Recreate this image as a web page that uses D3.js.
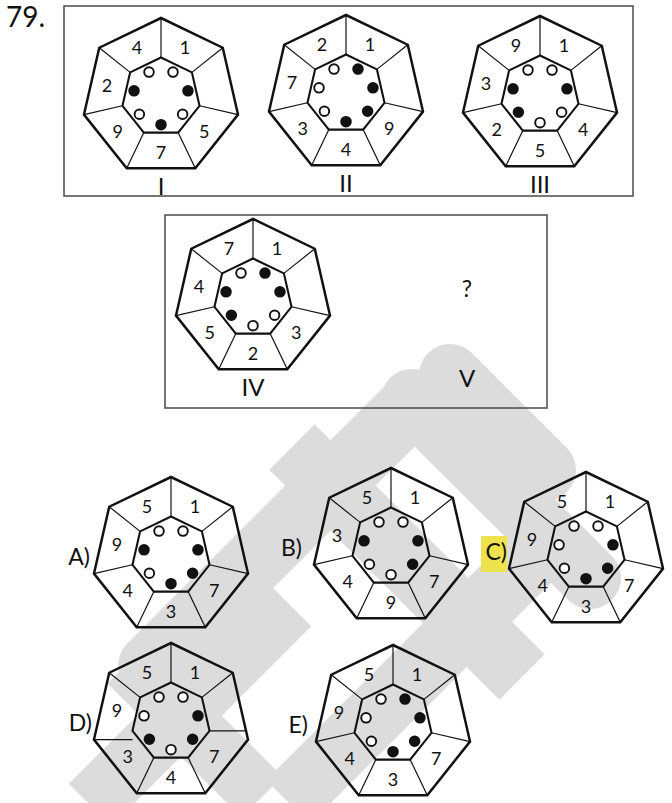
<html>
<head>
<meta charset="utf-8">
<script src="https://cdn.jsdelivr.net/npm/d3@7"></script>
<style>
body {margin: 0; background: white;}
text {font-family: Lato, "Open Sans", sans-serif; fill: #111;}
</style>
</head>
<body>
<svg width="672" height="803"></svg>
<script>

// numbers in the 7 outer cells, clockwise starting at the top-right cell ("" = empty cell)
var numI   = ["1", "", "5", "7", "9", "2", "4"];
var numII  = ["1", "", "9", "4", "3", "7", "2"];
var numIII = ["1", "", "4", "5", "2", "3", "9"];
var numIV  = ["1", "", "3", "2", "5", "4", "7"];
var numA   = ["1", "", "7", "3", "4", "9", "5"];
var numB   = ["1", "", "7", "9", "4", "3", "5"];
var numC   = ["1", "", "7", "3", "4", "9", "5"];
var numD   = ["1", "", "7", "4", "3", "9", "5"];
var numE   = ["1", "", "7", "3", "4", "9", "5"];

// small circles, same order: x = black, o = white
var dotsI   = "oxoxoxo";
var dotsII  = "xxxxooo";
var dotsIII = "oxooxxo";
var dotsIV  = "xxooxxo";
var dotsA   = "oxxxoxo";
var dotsB   = "oxxooxo";
var dotsC   = "oxxxooo";
var dotsD   = "oxxoxoo";
var dotsE   = "xxxxooo";

var figNames = ["I", "II", "III", "IV", "A", "B", "C", "D", "E"];
var optionNames = ["A", "B", "C", "D", "E"];

// where things go on the page
var centers = {I: [161, 97], II: [346, 94], III: [540, 95], IV: [253, 298],
               A: [171, 556], B: [391, 547], C: [586, 551], D: [171, 722], E: [393, 724]};
var letterX = {A: 90, B: 302, C: 507, D: 92, E: 308};

var nums = {I: numI, II: numII, III: numIII, IV: numIV, A: numA, B: numB, C: numC, D: numD, E: numE};
var dots = {I: dotsI, II: dotsII, III: dotsIII, IV: dotsIV, A: dotsA, B: dotsB, C: dotsC, D: dotsD, E: dotsE};

var R = 79;
var angle = d3.scaleLinear().domain([0, 7]).range([0, 2 * Math.PI]);
var radial = d3.scaleLinear().domain([0, 1]).range([0, R]);

function pt(c, rad, a) {
  return [c[0] + rad * Math.sin(a), c[1] - rad * Math.cos(a)];
}

var svg = d3.select("svg");

// grey watermark strokes behind the answer figures
var wm = [
  [450, 375, 545, 470, 62, "round"],
  [414, 402, 150, 666, 64, "round"],
  [290, 605, 90, 805, 60, "butt"],
  [128, 663, 262, 797, 58, "butt"],
  [292, 447, 522, 677, 64, "butt"],
  [412, 400, 590, 578, 62, "round"],
  [562, 528, 288, 802, 62, "butt"]
];
svg.append("g").selectAll("line")
  .data(wm)
  .enter()
  .append("line")
    .attr("x1", function(d) { return d[0]; })
    .attr("y1", function(d) { return d[1]; })
    .attr("x2", function(d) { return d[2]; })
    .attr("y2", function(d) { return d[3]; })
    .attr("stroke", "#dcdcdc")
    .attr("stroke-width", function(d) { return d[4]; })
    .attr("stroke-linecap", function(d) { return d[5]; });

// frames
svg.append("rect").attr("x", 64).attr("y", 6).attr("width", 569).attr("height", 190)
  .attr("fill", "none").attr("stroke", "#555").attr("stroke-width", 1.6);
svg.append("rect").attr("x", 165).attr("y", 215).attr("width", 382).attr("height", 193)
  .attr("fill", "none").attr("stroke", "#555").attr("stroke-width", 1.6);

svg.append("text").attr("x", 6).attr("y", 27).attr("font-size", 28).text("79.");

// highlight behind C)
svg.append("rect").attr("x", 481).attr("y", 536).attr("width", 26).attr("height", 36)
  .attr("fill", "#eee34c");

var poly = d3.line().curve(d3.curveLinearClosed);

figNames.forEach(function(name) {
  var c = centers[name];
  var g = svg.append("g");

  var outer = d3.range(7).map(function(k) { return pt(c, radial(1), angle(k)); });
  var inner = d3.range(7).map(function(k) { return pt(c, radial(0.5), angle(k)); });

  // spokes
  d3.range(7).forEach(function(k) {
    var a = inner[k], b = outer[k];
    if (name == "D" && k == 2) {
      // drawn flat from the inner corner to the outer edge
      var p = outer[1], q = outer[2];
      var t = (a[1] - p[1]) / (q[1] - p[1]);
      b = [p[0] + t * (q[0] - p[0]), a[1]];
    }
    if (name == "D" && k == 5) {
      a = [inner[5][0], outer[5][1]];
    }
    g.append("line")
      .attr("x1", a[0]).attr("y1", a[1]).attr("x2", b[0]).attr("y2", b[1])
      .attr("stroke", "#111").attr("stroke-width", 1.2);
  });

  g.append("path").attr("d", poly(outer))
    .attr("fill", "none").attr("stroke", "#111").attr("stroke-width", 2.5);
  g.append("path").attr("d", poly(inner))
    .attr("fill", "none").attr("stroke", "#111").attr("stroke-width", 2.1);

  // numbers
  g.selectAll("text.num")
    .data(nums[name])
    .enter()
    .append("text")
      .attr("class", "num")
      .attr("x", function(d, i) { return pt(c, radial(0.7), angle(i + 0.5))[0]; })
      .attr("y", function(d, i) { return pt(c, radial(0.7), angle(i + 0.5))[1]; })
      .attr("text-anchor", "middle")
      .attr("dominant-baseline", "central")
      .attr("font-size", 18)
      .text(function(d) { return d; });

  // circles
  g.selectAll("circle")
    .data(dots[name].split(""))
    .enter()
    .append("circle")
      .attr("cx", function(d, i) { return pt(c, radial(0.35), angle(i + 0.5))[0]; })
      .attr("cy", function(d, i) { return pt(c, radial(0.35), angle(i + 0.5))[1]; })
      .attr("r", 4.8)
      .attr("fill", function(d) { return d == "x" ? "#111" : "white"; })
      .attr("stroke", "#111")
      .attr("stroke-width", 1.9);

  if (optionNames.indexOf(name) < 0) {
    g.append("text")
      .attr("x", c[0])
      .attr("y", c[1] + radial(1.12))
      .attr("text-anchor", "middle")
      .attr("dominant-baseline", "central")
      .attr("font-size", 24)
      .text(name);
  } else {
    g.append("text")
      .attr("x", letterX[name])
      .attr("y", c[1])
      .attr("text-anchor", "end")
      .attr("dominant-baseline", "central")
      .attr("font-size", 23)
      .text(name + ")");
  }
});

// the empty fifth slot
svg.append("text").attr("x", 467).attr("y", 288).attr("text-anchor", "middle")
  .attr("dominant-baseline", "central").attr("font-size", 23).text("?");
svg.append("text").attr("x", 467).attr("y", 377).attr("text-anchor", "middle")
  .attr("dominant-baseline", "central").attr("font-size", 24).text("V");

</script>
</body>
</html>
